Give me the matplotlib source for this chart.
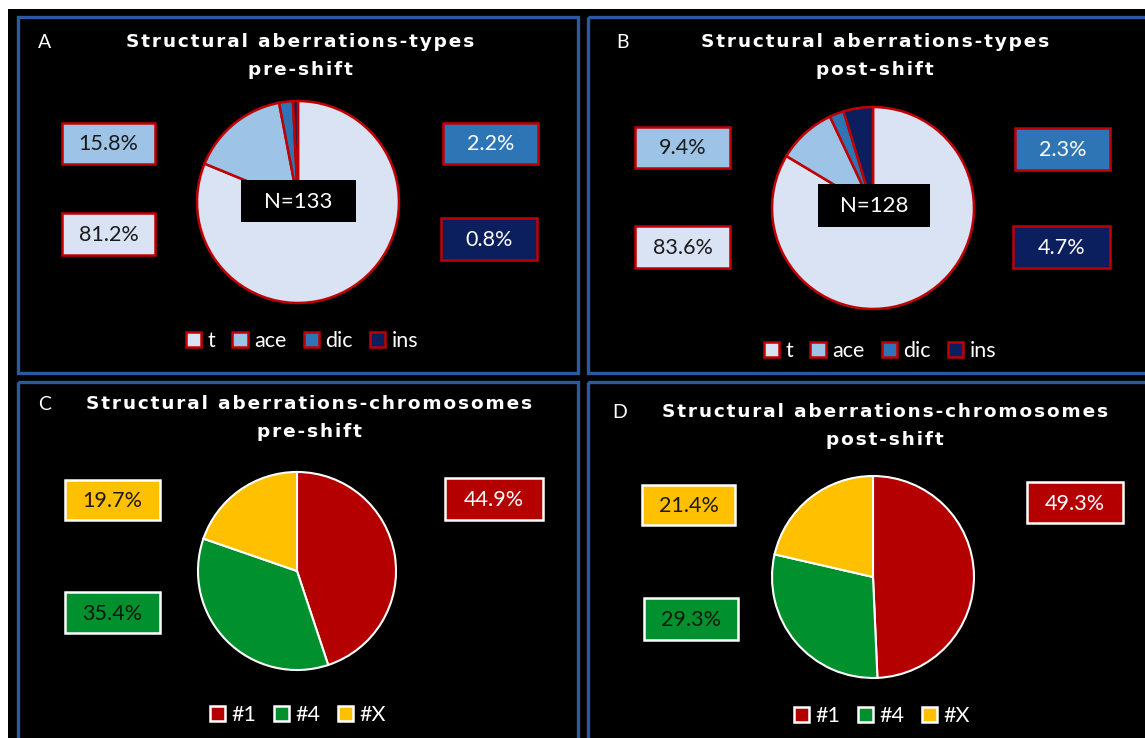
import matplotlib.pyplot as plt
from matplotlib.patches import Rectangle, Patch

W, H = 1145, 738

# data
type_labels = ['t', 'ace', 'dic', 'ins']
pre_types = [81.2, 15.8, 2.2, 0.8]
post_types = [83.6, 9.4, 2.3, 4.7]
n_pre, n_post = 133, 128

chrom_labels = ['#1', '#4', '#X']
pre_chrom = [44.9, 35.4, 19.7]
post_chrom = [49.3, 29.3, 21.4]

type_colors = ['#dae3f3', '#9dc3e6', '#2e75b6', '#0b1f5e']
type_text = ['#1a1a1a', '#1a1a1a', 'white', 'white']
chrom_colors = ['#b50000', '#00902e', '#ffc000']
chrom_text = ['white', '#0a1a0a', '#1a1a1a']

plt.rcParams['font.family'] = ['Lato', 'DejaVu Sans']

fig = plt.figure(figsize=(W / 100, H / 100), dpi=100, facecolor='white')
bg = fig.add_axes([0, 0, 1, 1])
bg.set_xlim(0, W)
bg.set_ylim(H, 0)
bg.axis('off')
bg.add_patch(Rectangle((8, 9), W - 8, H - 9, facecolor='black', edgecolor='none'))

blue = '#2c5aa0'
panels = [(18, 17, 560, 356), (588, 17, 565, 356), (18, 382, 560, 360), (588, 382, 565, 360)]
for (x, y, w, h) in panels:
    bg.add_patch(Rectangle((x, y), w, h, facecolor='none', edgecolor=blue, lw=2.4))


def label_box(x0, y0, x1, y1, txt, fc, tc, ec):
    bg.add_patch(Rectangle((x0, y0), x1 - x0, y1 - y0, facecolor=fc, edgecolor=ec, lw=1.8))
    bg.text((x0 + x1) / 2, (y0 + y1) / 2 + 1, txt, color=tc, fontsize=15.5,
            ha='center', va='center')


def spaced(s):
    # hair spaces to mimic the wide letter spacing of the titles
    return '\u200a'.join(s)


def title(cx, y, letter, lx, line1, line2):
    bg.text(lx, y, letter, color='white', fontsize=14, ha='left', va='center')
    bg.text(cx, y, spaced(line1), color='white', fontsize=13.3, fontweight='bold',
            ha='center', va='center', family='DejaVu Sans')
    bg.text(cx, y + 28, spaced(line2), color='white', fontsize=13.3, fontweight='bold',
            ha='center', va='center', family='DejaVu Sans')


def pie(cx, cy, r, vals, colors, ec, lw):
    ax = fig.add_axes([(cx - r) / W, 1 - (cy + r) / H, 2 * r / W, 2 * r / H])
    ax.pie(vals, colors=colors, startangle=90, counterclock=False,
           wedgeprops=dict(edgecolor=ec, linewidth=lw))
    ax.set_xlim(-1.02, 1.02)
    ax.set_ylim(-1.02, 1.02)
    return ax


def legend(cx, cy, labels, colors, ec):
    handles = [Patch(facecolor=c, edgecolor=ec, lw=1.8) for c in colors]
    fig.legend(handles, labels, loc='center', bbox_to_anchor=(cx / W, 1 - cy / H),
               ncol=len(labels), frameon=False, labelcolor='white', fontsize=15.5,
               handlelength=0.7, handleheight=0.7, handletextpad=0.3,
               columnspacing=0.8)


red = '#c00000'

# A
title(300, 42, 'A', 38, 'Structural aberrations-types', 'pre-shift')
pie(298, 202, 103, pre_types, type_colors, red, 1.8)
label_box(62, 123, 155, 164, f'{pre_types[1]}%', type_colors[1], type_text[1], red)
label_box(62, 213, 155, 255, f'{pre_types[0]}%', type_colors[0], type_text[0], red)
label_box(443, 123, 538, 164, f'{pre_types[2]}%', type_colors[2], type_text[2], red)
label_box(441, 218, 537, 260, f'{pre_types[3]}%', type_colors[3], type_text[3], red)
legend(302, 341, type_labels, type_colors, red)

# B
title(875, 42, 'B', 616, 'Structural aberrations-types', 'post-shift')
pie(873, 208, 103, post_types, type_colors, red, 1.8)
label_box(635, 127, 730, 168, f'{post_types[1]}%', type_colors[1], type_text[1], red)
label_box(635, 226, 730, 268, f'{post_types[0]}%', type_colors[0], type_text[0], red)
label_box(1015, 128, 1110, 170, f'{post_types[2]}%', type_colors[2], type_text[2], red)
label_box(1013, 226, 1110, 268, f'{post_types[3]}%', type_colors[3], type_text[3], red)
legend(880, 351, type_labels, type_colors, red)

# C
title(309, 404, 'C', 38, 'Structural aberrations-chromosomes', 'pre-shift')
pie(297, 571, 101, pre_chrom, chrom_colors, 'white', 1.5)
label_box(65, 480, 160, 520, f'{pre_chrom[2]}%', chrom_colors[2], chrom_text[2], 'white')
label_box(65, 592, 160, 633, f'{pre_chrom[1]}%', chrom_colors[1], chrom_text[1], 'white')
label_box(445, 478, 543, 520, f'{pre_chrom[0]}%', chrom_colors[0], chrom_text[0], 'white')
legend(298, 715, chrom_labels, chrom_colors, 'white')

# D
title(885, 412, 'D', 612, 'Structural aberrations-chromosomes', 'post-shift')
pie(873, 577, 103, post_chrom, chrom_colors, 'white', 1.5)
label_box(642, 485, 735, 525, f'{post_chrom[2]}%', chrom_colors[2], chrom_text[2], 'white')
label_box(644, 598, 738, 640, f'{post_chrom[1]}%', chrom_colors[1], chrom_text[1], 'white')
label_box(1027, 482, 1123, 523, f'{post_chrom[0]}%', chrom_colors[0], chrom_text[0], 'white')
legend(882, 716, chrom_labels, chrom_colors, 'white')

# N boxes sit on top of the pies
top = fig.add_axes([0, 0, 1, 1])
top.set_xlim(0, W)
top.set_ylim(H, 0)
top.axis('off')
top.add_patch(Rectangle((241, 180), 115, 42, facecolor='black', edgecolor='none'))
top.text(298, 202, f'N={n_pre}', color='white', fontsize=16, ha='center', va='center')
top.add_patch(Rectangle((818, 184), 112, 43, facecolor='black', edgecolor='none'))
top.text(874, 206, f'N={n_post}', color='white', fontsize=16, ha='center', va='center')

fig.savefig('out.png', dpi=100, facecolor='white')
